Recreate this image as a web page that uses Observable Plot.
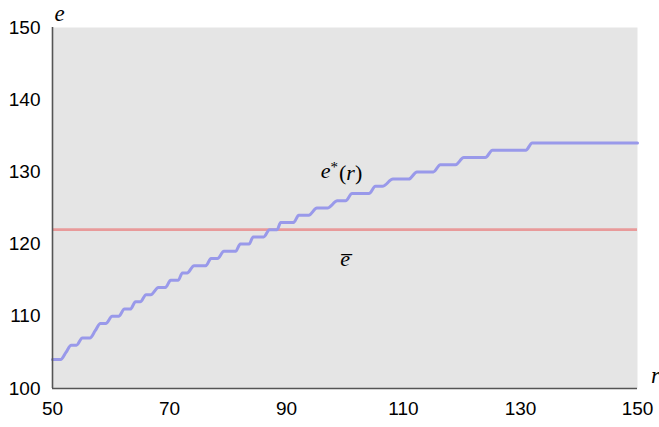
<!DOCTYPE html>
<html>
<head>
<meta charset="utf-8">
<script src="https://cdn.jsdelivr.net/npm/d3@7"></script>
<script src="https://cdn.jsdelivr.net/npm/@observablehq/plot@0.6"></script>
<style>
  html, body { margin: 0; padding: 0; background: #fff; }
  #chart svg { display: block; overflow: visible; }
</style>
</head>
<body>
<div id="chart"></div>
<script>
// Staircase e*(r): each level with the r-range over which it stays flat
const stepFrom = [50, 52.3, 53.2, 55.1, 57.3, 58.2, 60.2, 62.3, 64.2, 66.0, 68.1, 70.2, 72.2, 74.2, 77.1, 79.3, 82.1, 84.3, 87.1, 89.0, 92.1, 95.2, 98.7, 101.2, 105.2, 108.2, 112.3, 116.3, 120.3, 125.2, 132.0];
const stepTo   = [51.4, 52.3, 54.1, 56.4, 57.3, 59.1, 61.3, 63.3, 65.0, 66.8, 69.3, 71.5, 73.0, 76.2, 78.2, 81.3, 83.6, 86.1, 88.4, 91.2, 93.8, 97.0, 100.1, 104.1, 106.4, 110.9, 115.1, 118.9, 124.0, 130.9, 150];
const stepE    = [104, 105, 106, 107, 108, 109, 110, 111, 112, 113, 114, 115, 116, 117, 118, 119, 120, 121, 122, 123, 124, 125, 126, 127, 128, 129, 130, 131, 132, 133, 134];
const eBar = 122;
const xTicks = [50, 70, 90, 110, 130, 150];
const yTicks = [100, 110, 120, 130, 140, 150];

const curve = [];
stepE.forEach((e, i) => {
  curve.push({r: stepFrom[i], e});
  if (stepTo[i] !== stepFrom[i]) curve.push({r: stepTo[i], e});
});

const labels = [
  {r: 99.4, e: 130.2, key: "estar"},
  {r: 100, e: 118.0, key: "ebar"}
];

const serif = "'Liberation Serif', 'DejaVu Serif', serif";

const chart = Plot.plot({
  width: 659,
  height: 427,
  marginLeft: 52,
  marginRight: 22,
  marginTop: 27,
  marginBottom: 39,
  style: {fontFamily: "'Liberation Sans', sans-serif", fontSize: "19px", color: "#000", background: "transparent"},
  x: {domain: [50, 150], ticks: xTicks, tickSize: 0, tickPadding: 13, label: null},
  y: {domain: [100, 150], ticks: yTicks, tickSize: 0, tickPadding: 12, label: null},
  marks: [
    Plot.frame({fill: "#e5e5e5", stroke: null}),
    Plot.ruleY([eBar], {stroke: "#e89a9a", strokeWidth: 2.6}),
    Plot.line(curve, {x: "r", y: "e", curve: "monotone-x", stroke: "#9999ea", strokeWidth: 3}),
    Plot.ruleX([50], {stroke: "#555", strokeWidth: 1.6}),
    Plot.ruleY([100], {stroke: "#555", strokeWidth: 1.6}),
    Plot.text(labels, {x: "r", y: "e", text: "key", fontFamily: serif, fontSize: 22, className: "mathlabel"}),
    Plot.text(["e"], {frameAnchor: "top-left", dx: 7, dy: -23, fontFamily: serif, fontStyle: "italic", fontSize: 23, textAnchor: "middle"}),
    Plot.text(["r"], {frameAnchor: "bottom-right", dx: 18, dy: -6, fontFamily: serif, fontStyle: "italic", fontSize: 23, textAnchor: "middle"})
  ]
});

document.getElementById("chart").appendChild(chart);

// Format the math labels with tspans
d3.select(chart).selectAll(".mathlabel text").each(function() {
  const t = d3.select(this);
  const key = t.text();
  t.text("");
  if (key === "estar") {
    t.append("tspan").attr("font-style", "italic").text("e");
    t.append("tspan").attr("dy", "-0.4em").attr("font-size", "15px").text("*");
    t.append("tspan").attr("dy", "0.4em").attr("dx", "1").text("(");
    t.append("tspan").attr("font-style", "italic").text("r");
    t.append("tspan").text(")");
  } else {
    t.append("tspan").attr("font-style", "italic").text("e\u0305");
  }
});
</script>
</body>
</html>
